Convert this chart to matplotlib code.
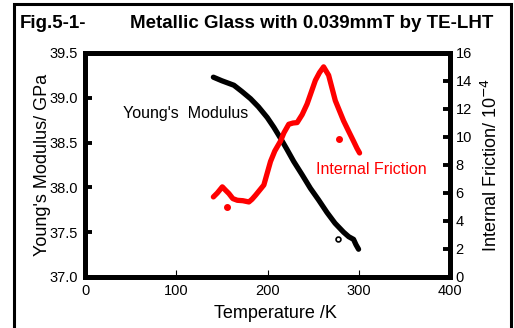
import matplotlib
matplotlib.use("Agg")
import matplotlib.pyplot as plt
from matplotlib.patches import Rectangle

plt.rcParams['font.family'] = ['Liberation Sans', 'DejaVu Sans']

# Young's modulus (GPa) vs temperature (K)
temp_e = [140.7, 150, 163.2, 172, 181.4, 190, 199.7, 207, 214.2, 221,
          228.7, 238, 247, 256, 265.2, 274, 283.4, 289, 294.3, 297, 299.8]
modulus = [39.23, 39.19, 39.14, 39.07, 38.99, 38.90, 38.78, 38.67, 38.55, 38.43,
           38.29, 38.14, 37.99, 37.86, 37.72, 37.60, 37.50, 37.45, 37.42, 37.36, 37.31]
outlier_e = ([276.8], [37.42])

# Internal friction (1e-4) vs temperature (K)
temp_q = [140.7, 145, 150.5, 154, 157.7, 162, 166.9, 173, 179.6, 183, 186.9,
          196, 203.3, 208, 214.2, 218, 223.3, 228, 232.5, 238, 243.4, 252.5,
          257, 261.5, 267, 274.3, 283.4, 289, 294.3, 298, 300.9]
friction = [5.72, 6.0, 6.44, 6.2, 5.96, 5.6, 5.48, 5.45, 5.36, 5.55, 5.84,
            6.57, 8.25, 9.0, 9.7, 10.3, 10.91, 11.0, 11.03, 11.6, 12.36, 14.05,
            14.6, 15.01, 14.41, 12.6, 11.15, 10.4, 9.7, 9.2, 8.86]
outlier_q = ([156, 278], [5.0, 9.83])

x_ticks = [0, 100, 200, 300, 400]
left_ticks = [37.0, 37.5, 38.0, 38.5, 39.0, 39.5]
right_ticks = [0, 2, 4, 6, 8, 10, 12, 14, 16]

W, H = 514, 328
fig = plt.figure(figsize=(W / 100, H / 100), dpi=100)
ax = fig.add_axes([85 / W, 1 - 277 / H, (450 - 85) / W, (277 - 53) / H])
ax2 = ax.twinx()

ax.plot(temp_e, modulus, color='black', lw=3.8,
        solid_capstyle='round', solid_joinstyle='round', zorder=3)
ax.plot(*outlier_e, 'o', mfc='white', mec='black', ms=3.5, mew=1.2)
ax2.plot(temp_q, friction, color='#ff0000', lw=3.8,
         solid_capstyle='round', solid_joinstyle='round')
ax2.plot(*outlier_q, 'o', color='#ff0000', ms=4)

ax.set_xlim(0, 400)
ax.set_ylim(37.0, 39.5)
ax2.set_ylim(0, 16)
ax.set_xticks(x_ticks)
ax.set_yticks(left_ticks)
ax.set_yticklabels([f"{v:.1f}" for v in left_ticks])
ax2.set_yticks(right_ticks)

for a in (ax, ax2):
    for s in a.spines.values():
        s.set_linewidth(3.5)
ax.tick_params(axis='y', direction='in', length=5, width=2.8,
               labelsize=10.5, pad=5)
ax2.tick_params(axis='y', direction='in', length=5, width=2.8,
                labelsize=10.5, pad=4)
ax.tick_params(axis='x', direction='in', length=5, width=0.8,
               labelsize=10.5, pad=5)

ax.set_xlabel("Temperature /K", fontsize=13)
ax.xaxis.set_label_coords((275 - 85) / 365, (277 - 305) / 224)
ax.set_ylabel("Young's Modulus/ GPa", fontsize=13)
ax.yaxis.set_label_coords((51 - 85) / 365, 0.5)
ax2.set_ylabel("Internal Friction/ 10$^{-4}$", fontsize=13)
ax2.yaxis.set_label_coords((481 - 85) / 365, 0.5)

ax.text(41.5, 38.82, "Young's  Modulus", fontsize=11.5, va='center')
ax.text(253.6, 38.2, "Internal Friction", fontsize=11.5, va='center',
        color='#ff0000')

fig.text(20 / W, 1 - 23 / H, "Fig.5-1-", fontsize=13.5, fontweight='bold',
         va='center')
fig.text(130 / W, 1 - 23 / H, "Metallic Glass with 0.039mmT by TE-LHT",
         fontsize=13.5, fontweight='bold', va='center')

fig.patches.append(Rectangle((13.5 / W, -0.05), (510.5 - 13.5) / W,
                             1.05 - 3.5 / H, transform=fig.transFigure,
                             fill=False, lw=2.2, edgecolor='black'))

fig.savefig("out.png", dpi=100)
